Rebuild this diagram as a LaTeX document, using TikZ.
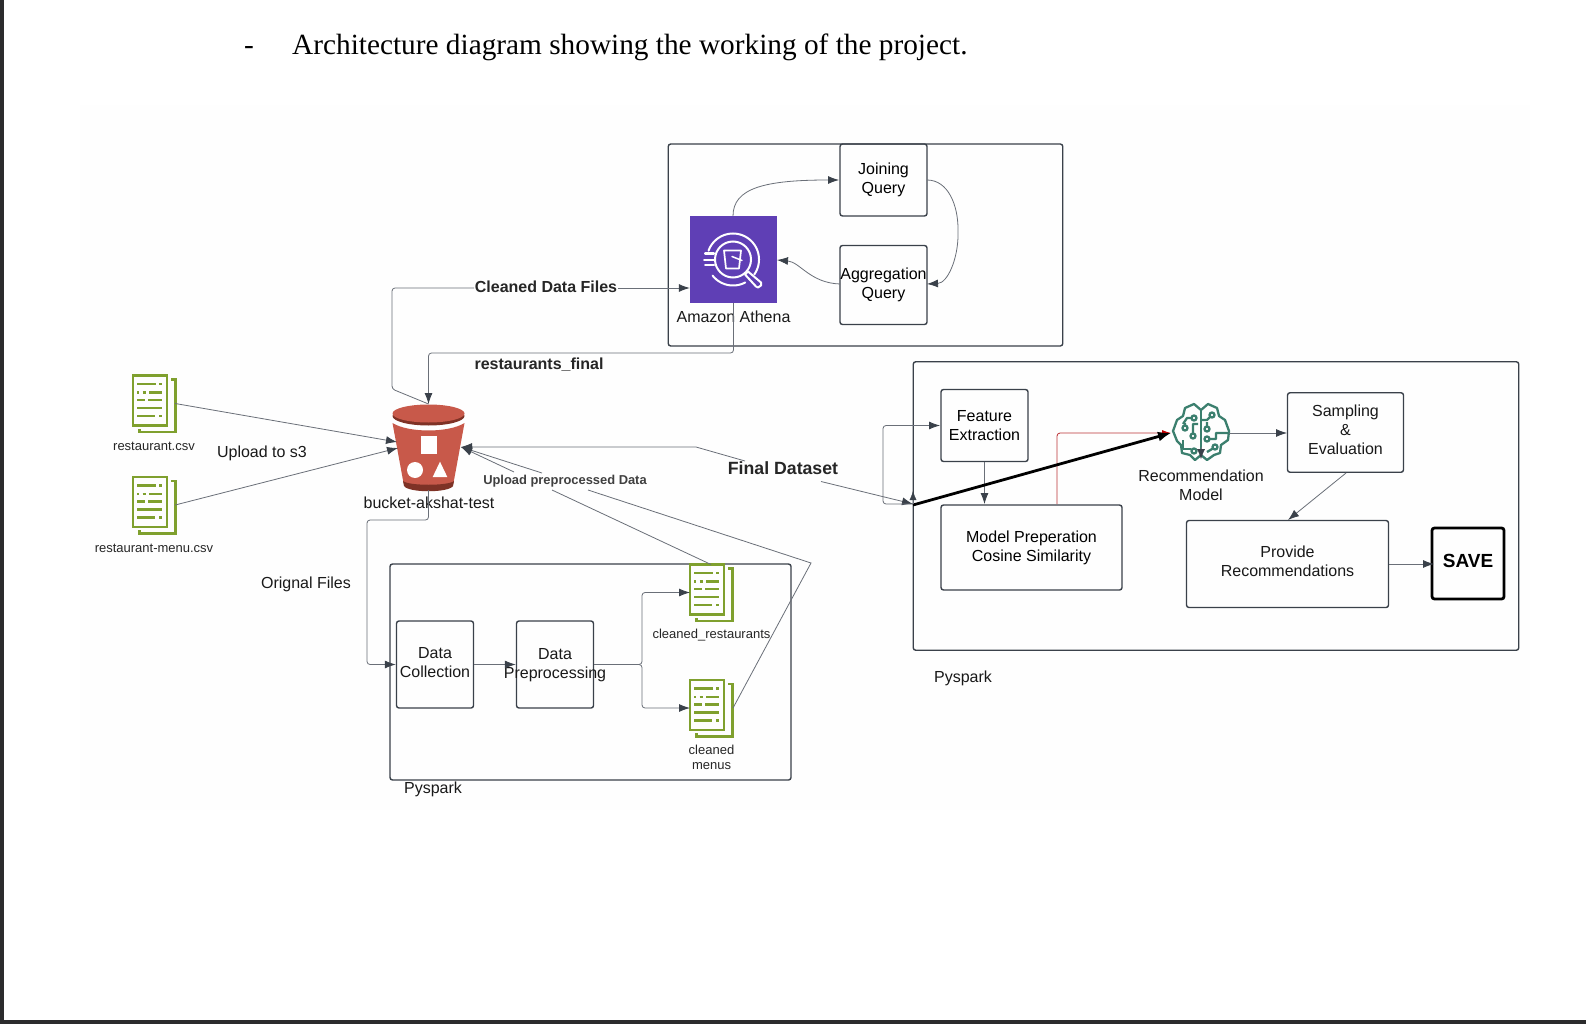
\documentclass[tikz,border=0pt]{standalone}
\usepackage{fontspec}
\setmainfont{Liberation Sans}
\newfontfamily\serifbody{Liberation Serif}
\usetikzlibrary{arrows.meta,calc}
\definecolor{ln}{HTML}{3A414A}
\definecolor{thin}{HTML}{6A6F78}
\definecolor{grn}{HTML}{7FA02E}
\definecolor{teal}{HTML}{3B7F6E}
\definecolor{purp}{HTML}{5F3FB5}
\definecolor{buck}{HTML}{C8594A}
\definecolor{buckd}{HTML}{7E3226}
\definecolor{frame}{HTML}{2B2B2D}
\tikzset{
  x=1pt,y=-1pt,
  box/.style={draw=ln,line width=1.4pt,rounded corners=2.5pt,align=center,font=\fontsize{16}{19}\selectfont,inner sep=0pt},
  conn/.style={draw=thin,line width=.8pt,-{Latex[length=11pt,width=8pt,color=ln]},rounded corners=3pt},
  plain/.style={draw=thin,line width=.8pt,rounded corners=3pt},
  lab/.style={font=\fontsize{16}{19}\selectfont,align=center,text=black!90,inner sep=0pt},
  small/.style={font=\fontsize{13}{15.5}\selectfont,align=center,text=black!85,inner sep=0pt},
  blab/.style={font=\fontsize{16}{19}\selectfont\bfseries,text=black!85,inner sep=0pt},
}
\newcommand{\docicon}[2]{%
 \begin{scope}[shift={(#1)}]
  \draw[grn,line width=2.5pt] (-21,-28) rectangle (13,22);
  \draw[grn,line width=2.5pt] (17,-24) -- (21.5,-24) -- (21.5,28.5) -- (-14.5,28.5) -- (-14.5,25);
  \draw[grn,line width=2.5pt]
    (-16.7,-19.5) -- (2,-19.5) (5.3,-19.5) -- (8.3,-19.5)
    (-16.7,-11) -- (-15,-11) (-11.5,-11) -- (-8,-11) (-5,-11) -- (8.3,-11)
    (-16.7,-3.5) -- (-9,-3.5) (-6,-3.5) -- (8.3,-3.5)
    (-16.7,4.5) -- (8.3,4.5)
    (-16.7,12.5) -- (1,12.5) (5,12.5) -- (8.3,12.5);
  \node (#2) at (0,0) [minimum width=42pt,minimum height=56pt,inner sep=0pt] {};
 \end{scope}}
\begin{document}
\begin{tikzpicture}
\useasboundingbox (0,0) rectangle (1586,1024);
\fill[white] (0,0) rectangle (1586,1024);
\fill[black!0.5] (80,105) rectangle (1530,810);
\fill[frame] (0,0) rectangle (4,1024);
\fill[frame] (0,1020) rectangle (1586,1024);
% title
\node[font=\serifbody\fontsize{29.3}{32}\selectfont,anchor=base west,inner sep=0pt] (titledash) at (244,55) {-};
\node[font=\serifbody\fontsize{29.3}{32}\selectfont,anchor=base west,inner sep=0pt] (title) at (292,55) {Architecture diagram showing the working of the project.};
% frames
\node[box,minimum width=394.5pt,minimum height=202pt] (fathena) at (865.5,245) {};
\node[box,minimum width=401pt,minimum height=216pt] (fpre) at (590.5,672) {};
\node[box,minimum width=605.5pt,minimum height=288.5pt] (frec) at (1216,506) {};
% athena boxes
\node[box,minimum width=87pt,minimum height=72pt] (join) at (883.5,180) {Joining\\Query};
\node[box,minimum width=87pt,minimum height=79pt] (agg) at (883.5,285) {Aggregation\\Query};
\node[fill=purp,minimum size=87pt,inner sep=0pt] (ath) at (733.5,259.5) {};
\begin{scope}[shift={(733,259.5)},white,line width=2pt,line cap=round]
  \draw plot[domain=200:395,samples=40] ({26*cos(\x)},{26*sin(\x)});
  \draw plot[domain=62:142,samples=20] ({26*cos(\x)},{26*sin(\x)});
  \draw (0,0) circle (18);
  \draw (-28,-6) -- (-19,-6) (-29,0) -- (-19,0) (-28,5) -- (-19,5);
  \draw[line width=1.7pt,line join=round] (-9,-9) -- (-7,9) -- (6,9) -- (8,-9) -- cycle;
  \draw[line width=1.5pt] (-1,-3) -- (9,1);
  \draw[line width=2pt,line join=round] (12,15) -- (15,12) -- (28,23) -- (28,26) -- (25,28) -- (23,27) -- cycle;
\end{scope}
\node[lab,anchor=center] (athl) at (733.5,316.5) {Amazon Athena};
% bucket
\begin{scope}[shift={(428.5,0)}]
  \fill[buck] (-36,423) -- (-25,483) .. controls (-22,491) and (22,491) .. (25,483) -- (36,423) .. controls (20,433) and (-20,433) .. (-36,423) -- cycle;
  \fill[buckd] (-25.5,481) .. controls (-20,486) and (20,486) .. (25.5,481) -- (24.5,486) .. controls (20,493) and (-20,493) .. (-24.5,486) -- cycle;
  \fill[buckd] (0,416) ellipse (36 and 9.5);
  \fill[buck] (0,413.5) ellipse (36 and 9);
  \fill[white] (-8,436) rectangle (8,454);
  \fill[white] (-13.5,470) circle (8);
  \fill[white] (11.5,461.7) -- (18.8,477) -- (4.2,477) -- cycle;
\end{scope}
\node[inner sep=0pt,minimum width=74pt,minimum height=86pt] (bucket) at (428.5,447) {};
\node[lab] (bucketl) at (429,503) {bucket-akshat-test};
% docs
\docicon{154,403.5}{d1}
\docicon{154,505}{d2}
\docicon{711,592.5}{d3}
\docicon{711,708}{d4}
\node[small] (d1l) at (154,446) {restaurant.csv};
\node[small] (d2l) at (154,548) {restaurant-menu.csv};
\node[small] (d3l) at (711.5,635.5) {cleaned\_restaurants};
\node[small] (d4l) at (711.5,757.5) {cleaned\\menus};
% pre boxes
\node[box,minimum width=77pt,minimum height=87pt] (coll) at (435,664.5) {};
\node[lab] (colll) at (435,663) {Data\\Collection};
\node[box,minimum width=77pt,minimum height=87pt] (prep) at (555,664.5) {};
\node[lab] (prepl) at (555,665) {Data\\Preprocessing};
% rec boxes
\node[box,minimum width=87pt,minimum height=72pt] (feat) at (984.5,425.5) {Feature\\Extraction};
\node[box,minimum width=181pt,minimum height=85pt] (model) at (1031.5,547.5) {Model Preperation\\Cosine Similarity};
\node[box,minimum width=116pt,minimum height=79.5pt] (samp) at (1345.5,432.5) {};
\node[lab] (sampl) at (1345.5,430) {Sampling\\\&\\Evaluation};
\node[box,minimum width=202pt,minimum height=87pt] (prov) at (1287.5,564) {};
\node[lab] (provl) at (1287.5,561) {Provide\\Recommendations};
\node[box,draw=black,line width=2.8pt,minimum width=72pt,minimum height=71pt] (save) at (1468,563.5) {};
\node[font=\fontsize{19}{22}\selectfont\bfseries,inner sep=0pt] (savel) at (1468,561) {SAVE};
% brain
\begin{scope}[shift={(1201,432)},teal,line width=2.3pt,line join=round]
  \draw (0,-22) -- (-7,-28) -- (-16,-24) -- (-18,-16) -- (-24,-12) -- (-28,-1) -- (-24,9) -- (-20,13) -- (-19,21) -- (-11,23) -- (-6,28) -- (0,23) -- (6,28) -- (13,23) -- (19,21) -- (20,13) -- (27,8) -- (28,-1) -- (24,-12) -- (18,-16) -- (16,-24) -- (7,-28) -- cycle;
  \draw (0,-22) -- (0,23);
  \draw (-18,-8) -- (-14,-14) -- (-9,-14);
  \draw (-7,-14) circle (2.5);
  \draw (-16,-4) circle (2.5) (-16,-7) -- (-16,-9);
  \draw (-8,4) circle (2.5) (-8,1) -- (-8,-8) -- (-3,-8);
  \draw (-18,8) -- (-18,17) -- (-10,17);
  \draw (-7,19) circle (2.5);
  \draw (11,-17) circle (2.5) (9,-15) -- (6,-12) -- (0,-12);
  \draw (6,-3) circle (2.5) (6,-6) -- (6,-10);
  \draw (6,7) circle (2.5) (9,7) -- (15,7) -- (15,1) -- (28,1);
  \draw (14,15) circle (2.5) (11,17) -- (6,20);
\end{scope}
\node[inner sep=0pt,minimum size=58pt] (brain) at (1201,432) {};
\node[lab] (brainl) at (1201,485.5) {Recommendation\\Model};
% labels
\node[lab] (ups3) at (262,453.5) {Upload to s3};
\node[lab] (orig) at (306,584) {Orignal Files};
\node[lab] (pyA) at (433,789) {Pyspark};
\node[lab] (pyB) at (963,678) {Pyspark};
% connectors
\draw[conn] (d1.east |- 0,403.5) -- (397,442);
\draw[conn] (d2.east |- 0,505) -- (398,448);
\draw[plain] (428.5,404) -- (392,389) -- (392,288) -- (474,288);
\draw[conn] (618,288) -- (ath.west |- 0,288);
\node[blab] (cdf) at (546,287) {Cleaned Data Files};
\draw[conn] (ath.south) -- (733.5,353) -- (428.5,353) -- (428.5,404);
\node[blab] (rf) at (539,364.5) {restaurants\_final};
\draw[conn] (bucket.south) -- (428.5,520) -- (367,520) -- (367,664.5) -- (coll.west);
\draw[conn,rounded corners=0pt] (coll.east) -- (prep.west);
\draw[conn] (prep.east) -- (642,664.5) -- (642,592.5) -- (690,592.5);
\draw[conn] (prep.east) -- (642,664.5) -- (642,708) -- (690,708);
% cleaned to bucket
\draw[plain,rounded corners=0pt] (711,564.5) -- (552,490);
\draw[conn,rounded corners=0pt] (514,472) -- (461,447);
\draw[plain,rounded corners=0pt] (733,708) -- (811,563) -- (588,490);
\draw[conn,rounded corners=0pt] (542,473) -- (461,447);
\node[font=\fontsize{12.9}{15}\selectfont\bfseries,text=black!75,inner sep=0pt] (upl) at (565,481) {Upload preprocessed Data};
% final dataset
\draw[conn,rounded corners=0pt] (821,481.5) -- (913,504);
\draw[conn,rounded corners=0pt] (745,461) -- (696,447) -- (461,447);
\node[blab,font=\fontsize{17.7}{20}\selectfont\bfseries] (fd) at (783,468.5) {Final Dataset};
% athena internal
\draw[conn] (733,216) .. controls (733,188) and (765,180) .. (839,180);
\draw[conn] (927,180) .. controls (948,180) and (958,205) .. (958,232) .. controls (958,258) and (948,283) .. (927,284);
\draw[conn] (840,284) .. controls (810,283) and (800,262) .. (777,260);
% rec connectors
\draw[conn] (913,504) -- (883,504) -- (883,425.5) -- (940,425.5);
\draw[conn,rounded corners=0pt] (984.5,462) -- (984.5,504);
\draw[draw=red!55!thin,line width=.8pt,rounded corners=3pt,-{Latex[length=9pt,width=6pt,color=red!75!black]}] (1057,504) -- (1057,433) -- (1171,433);
\draw[black,line width=2.8pt,-{Latex[length=13pt,width=10pt,color=black]}] (913,505) -- (1171,433);
\draw[conn,rounded corners=0pt] (1229,433) -- (1287,433);
\draw[conn,rounded corners=0pt] (1346,473) -- (1288,520);
\draw[conn,rounded corners=0pt] (1389,564) -- (1434,564);
% small heads
\draw[-{Latex[length=10pt,width=8pt,color=ln]},draw=thin] (1201,447) -- (1201,459);
\draw[-{Latex[length=9pt,width=7pt,color=ln]},draw=thin] (913,504) -- (913,491);
\end{tikzpicture}
\end{document}
